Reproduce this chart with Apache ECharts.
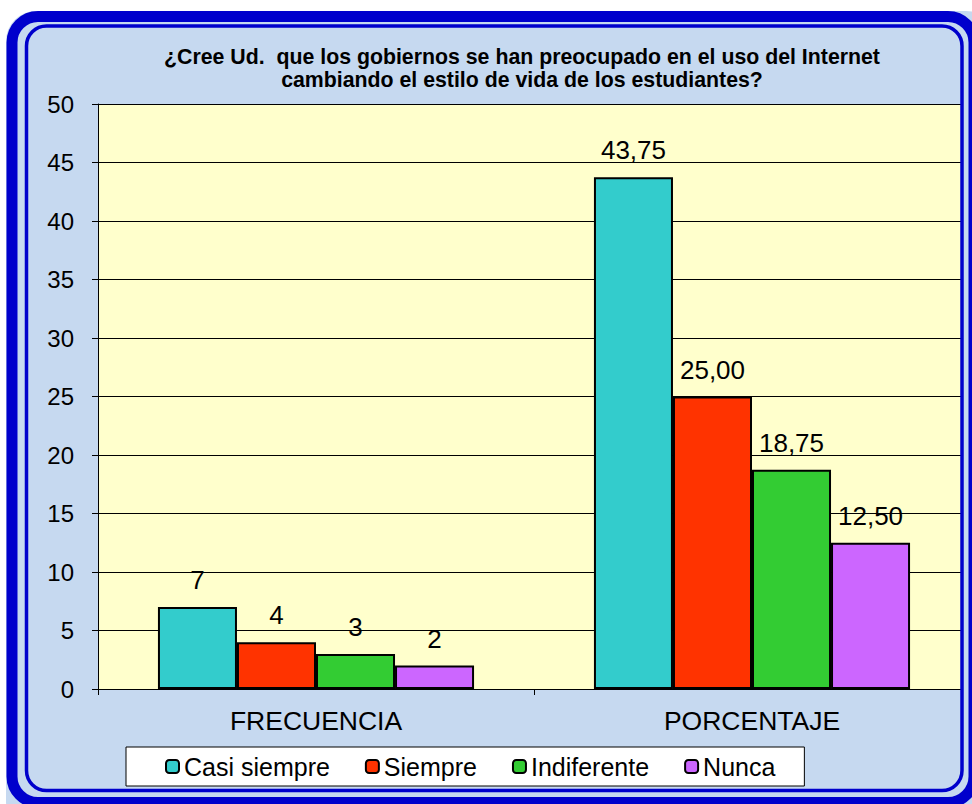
<!DOCTYPE html>
<html>
<head>
<meta charset="utf-8">
<script src="https://cdn.jsdelivr.net/npm/echarts@6/dist/echarts.min.js"></script>
<style>
  html, body { margin: 0; padding: 0; background: #fff; }
  #chart { width: 972px; height: 804px; }
</style>
</head>
<body>
<div id="chart"></div>
<script>
var categories = ['FRECUENCIA', 'PORCENTAJE']
var seriesNames = ['Casi siempre', 'Siempre', 'Indiferente', 'Nunca']
var casiSiempre = [7, 43.75]
var siempre = [4, 25]
var indiferente = [3, 18.75]
var nunca = [2, 12.5]
var yTicks = [0, 50, 5] // min, max, interval

var colors = ['#33CCCC', '#FF3300', '#33CC33', '#CC66FF']
var font = 'Arial, "Liberation Sans", sans-serif'

var myChart = echarts.init(document.getElementById('chart'), null, { renderer: 'svg' })

function makeSeries(name, values, i) {
  return {
    name: name,
    type: 'bar',
    data: values,
    barGap: '0%',
    barCategoryGap: '27.5%',
    itemStyle: { color: colors[i], borderColor: '#000', borderWidth: 2 },
    label: {
      show: true,
      position: 'top',
      distance: 14,
      color: '#000',
      fontFamily: font,
      fontSize: 26,
      formatter: function (p) {
        return p.dataIndex === 0 ? String(p.value) : p.value.toFixed(2).replace('.', ',')
      }
    }
  }
}

var option = {
  backgroundColor: '#fff',
  animation: false,
  title: {
    text: '¿Cree Ud.  que los gobiernos se han preocupado en el uso del Internet\ncambiando el estilo de vida de los estudiantes?',
    left: 517,
    top: 40,
    textAlign: 'center',
    textStyle: { fontFamily: font, fontSize: 21.3, fontWeight: 'bold', color: '#000', lineHeight: 23 }
  },
  legend: {
    left: 126,
    top: 747,
    padding: [7, 29, 7, 39],
    itemGap: 35,
    itemWidth: 13,
    itemHeight: 13,
    backgroundColor: '#fff',
    borderColor: '#000',
    borderWidth: 1,
    borderRadius: 0,
    itemStyle: { borderColor: '#000', borderWidth: 2 },
    textStyle: { fontFamily: font, fontSize: 25, color: '#000' },
    data: seriesNames
  },
  grid: { left: 98, top: 104, right: 2, bottom: 115, backgroundColor: '#FFFFCC', show: true, borderWidth: 0 },
  xAxis: {
    type: 'category',
    data: categories,
    axisLine: { lineStyle: { color: '#000', width: 1 } },
    axisTick: { show: true, length: 6, lineStyle: { color: '#000' } },
    axisLabel: { margin: 18, fontFamily: font, fontSize: 26.5, color: '#000' }
  },
  yAxis: {
    type: 'value',
    min: yTicks[0],
    max: yTicks[1],
    interval: yTicks[2],
    axisLine: { show: true, lineStyle: { color: '#000', width: 1 } },
    axisTick: { show: true, length: 6, lineStyle: { color: '#000' } },
    axisLabel: { margin: 24, fontFamily: font, fontSize: 24, color: '#000' },
    splitLine: { lineStyle: { color: '#000', width: 1 } }
  },
  graphic: {
    elements: [
      // panel background
      { type: 'rect', z: -10, shape: { x: 6, y: 11, width: 990, height: 820, r: 30 }, style: { fill: '#C6D9F0' } },
      // light stripe between the two blue frames
      { type: 'rect', z: 50, shape: { x: 22, y: 22.5, width: 944, height: 772.5, r: 22 }, style: { fill: 'none', stroke: '#C6D9F0', lineWidth: 7 } },
      // thick outer frame
      { type: 'rect', z: 51, shape: { x: 12, y: 16.5, width: 962, height: 786, r: 26 }, style: { fill: 'none', stroke: '#0000CC', lineWidth: 11 } },
      // thin inner frame
      { type: 'rect', z: 52, shape: { x: 26.5, y: 26, width: 935.5, height: 764.5, r: 20 }, style: { fill: 'none', stroke: '#0000CC', lineWidth: 3.5 } }
    ]
  },
  series: [
    makeSeries(seriesNames[0], casiSiempre, 0),
    makeSeries(seriesNames[1], siempre, 1),
    makeSeries(seriesNames[2], indiferente, 2),
    makeSeries(seriesNames[3], nunca, 3)
  ]
}

myChart.setOption(option)
</script>
</body>
</html>
